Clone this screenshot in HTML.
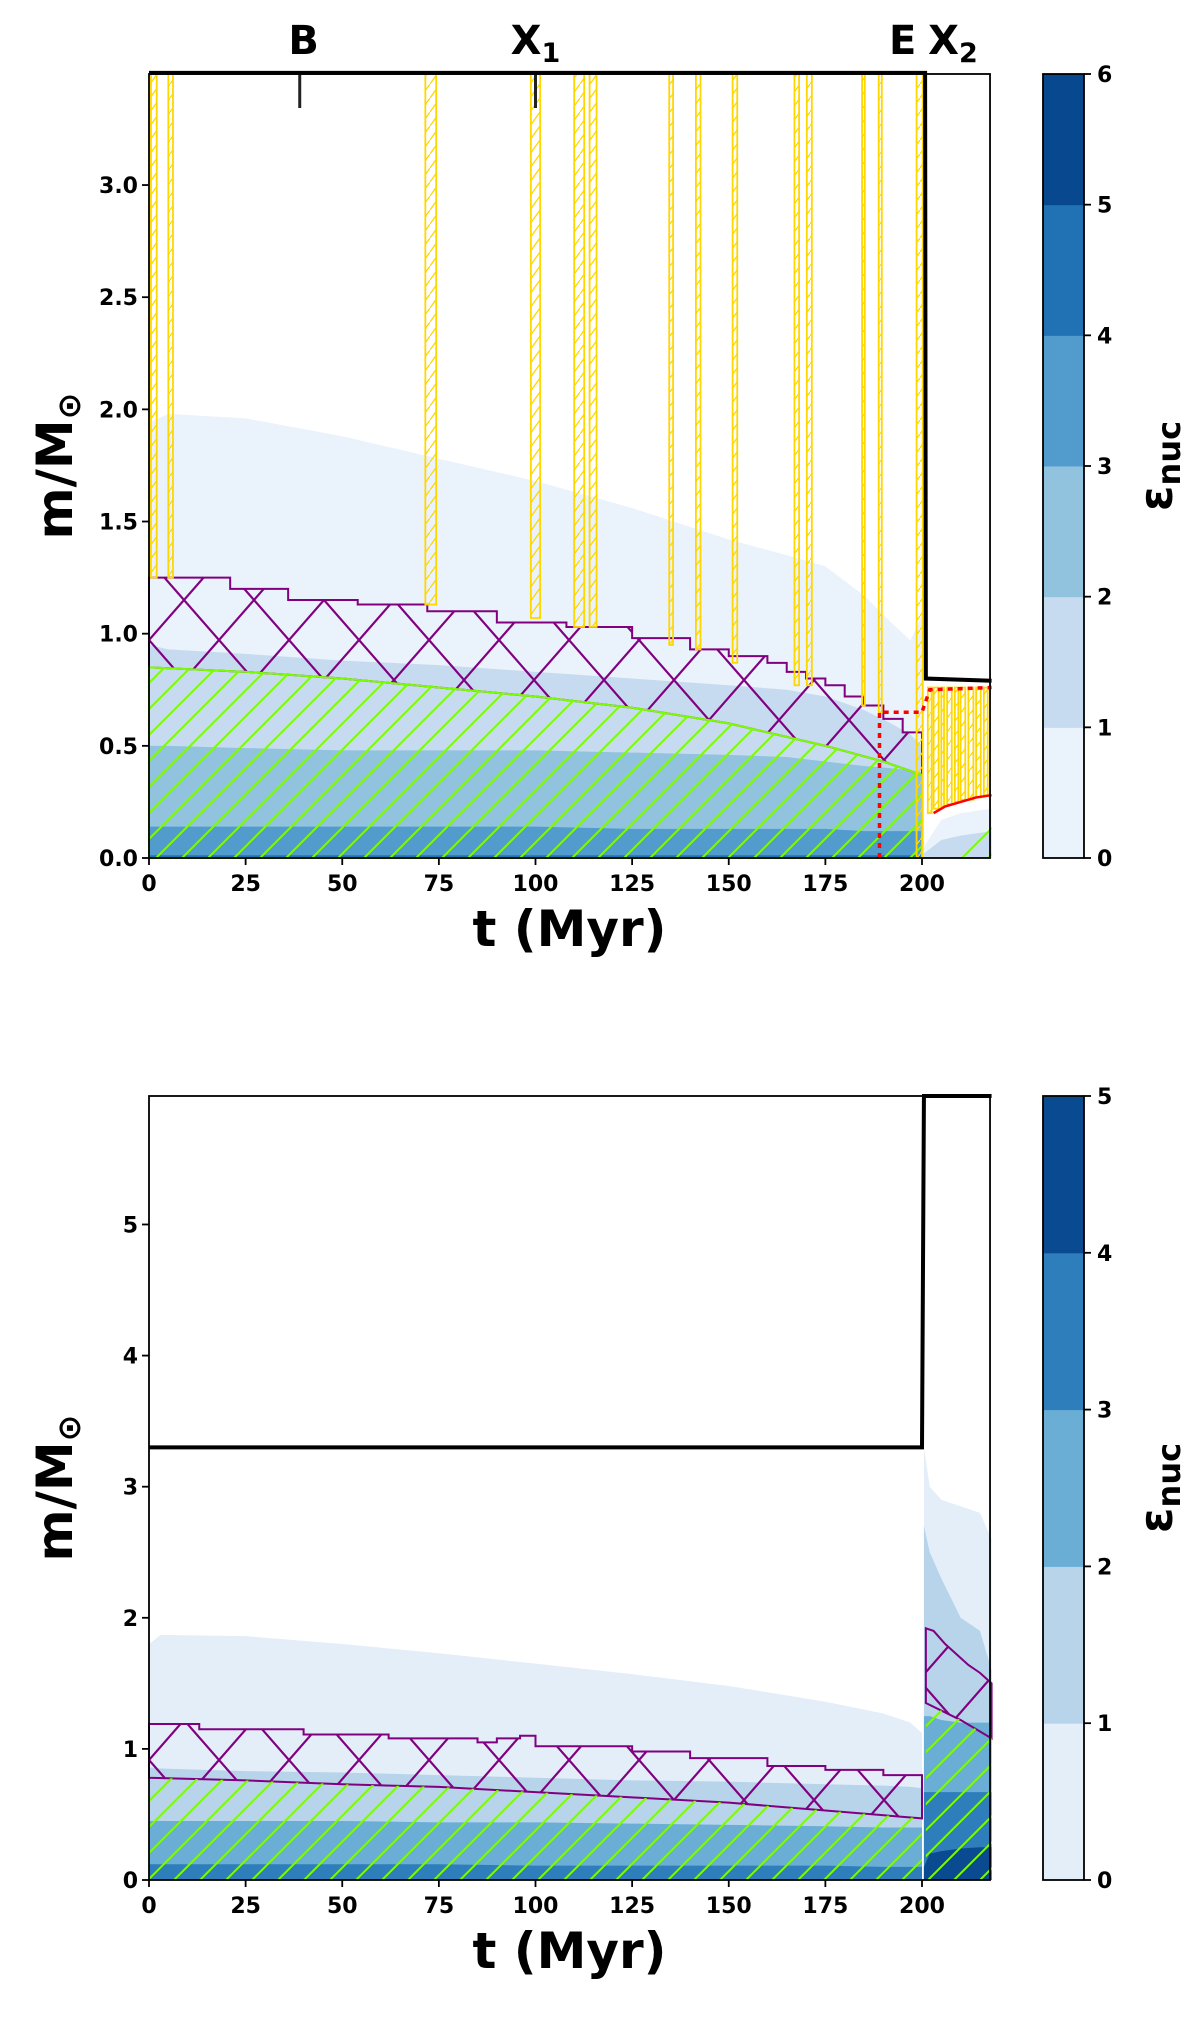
<!DOCTYPE html>
<html><head><meta charset="utf-8">
<style>
html,body{margin:0;padding:0;background:#fff;}
svg{display:block;font-family:"DejaVu Sans","Liberation Sans",sans-serif;}
</style></head>
<body>
<svg id="fig" width="1200" height="2022" viewBox="0 0 1200 2022" xmlns="http://www.w3.org/2000/svg">
<defs>
<pattern id="hatchGreen" patternUnits="userSpaceOnUse" width="26" height="26">
<path d="M-2,28 L28,-2 M-2,2 L2,-2 M24,28 L28,24" stroke="#7cfc00" stroke-width="2"/>
</pattern>
<pattern id="hatchPurple" patternUnits="userSpaceOnUse" width="70" height="80" x="149" y="0">
<path d="M0,0 L70,80 M70,0 L0,80" stroke="#800080" stroke-width="2.2"/>
</pattern>
<pattern id="hatchYellow" patternUnits="userSpaceOnUse" width="10" height="14">
<path d="M0,14 L10,0" stroke="#ffd700" stroke-width="1.3"/>
</pattern>
</defs>
<g id="top"></g>
<g id="bot"></g>
</svg>
<script>
// ---------- data: top panel ----------
const xTicks = [0,25,50,75,100,125,150,175,200];
const yTicksTop = [0.0,0.5,1.0,1.5,2.0,2.5,3.0];
const cbTicksTop = [0,1,2,3,4,5,6];
const cbColorsTop = ['#eaf2fb','#c6dbef','#92c3de','#519ccc','#2171b5','#08488e'];
const tMain = [0,5,25,50,75,100,125,150,165,175,185,192,197,200];
const lvl0Top = [1.94,1.98,1.96,1.88,1.78,1.68,1.56,1.42,1.35,1.30,1.17,1.05,0.97,1.08];
const lvl1Top = [0.95,0.93,0.91,0.88,0.86,0.83,0.80,0.77,0.75,0.72,0.66,0.60,0.55,0.50];
const lvl2Top = [0.50,0.50,0.49,0.48,0.48,0.48,0.47,0.46,0.45,0.43,0.41,0.40,0.39,0.38];
const lvl3Top = [0.14,0.14,0.14,0.14,0.14,0.14,0.13,0.13,0.13,0.13,0.12,0.12,0.12,0.12];
const tPost = [200.5,205,210,218];
const lvl0Post = [0.05,0.17,0.20,0.22];
const lvl1Post = [0.02,0.08,0.10,0.12];
const greenT = [0,25,50,75,100,125,150,175,190,200];
const greenTop = [0.85,0.83,0.80,0.76,0.72,0.67,0.60,0.50,0.43,0.37];
const greenPostT = [205,218];
const greenPostTop = [0.0,0.18];
const purpleStepT = [0,21,36,54,72,90,108,125,140,150,160,165,170,175,180,185,190,195,200];
const purpleStepY = [1.25,1.20,1.15,1.13,1.10,1.05,1.03,0.98,0.93,0.90,0.87,0.83,0.80,0.77,0.72,0.68,0.62,0.56,0.50];
const yStripT0 = [0.5,5,71.5,98.8,110,114,134.6,141.5,151,167,170.2,184.5,188.8,198.6,201.5,203,205,206.5,208.5,210,212,214,216];
const yStripT1 = [2,6.2,74.3,101.2,112.6,115.8,135.6,142.7,152.2,168.2,171.5,185.2,189.6,200.2,202.5,204.3,205.7,207.7,209.4,211.2,213.3,215.2,217];
const yStripBot = [1.25,1.25,1.13,1.07,1.03,1.03,0.95,0.93,0.87,0.77,0.77,0.68,0.65,0.0,0.20,0.22,0.23,0.24,0.25,0.26,0.26,0.27,0.28];
const yStripTopV = [3.5,3.5,3.5,3.5,3.5,3.5,3.5,3.5,3.5,3.5,3.5,3.5,3.5,3.5,0.76,0.76,0.76,0.76,0.76,0.76,0.76,0.76,0.76];
const blackT = [0,200,200.8,201,218];
const blackY = [3.5,3.5,3.5,0.8,0.79];
const redDotT = [189,189,200,202,218];
const redDotY = [0.0,0.65,0.65,0.75,0.76];
const redSolidT = [203,206,210,214,218];
const redSolidY = [0.2,0.23,0.25,0.27,0.28];
const markT = [39,100];
const markLabels = [['B',40],['X','1',100],['E',195],['X','2',208]];

// ---------- data: bottom panel ----------
const yTicksBot = [0,1,2,3,4,5];
const cbTicksBot = [0,1,2,3,4,5];
const cbColorsBot = ['#e3eef9','#b7d4ea','#6aaed6','#2e7ebc','#0a4a90'];
const tMainB = [0,3,25,50,75,100,125,150,175,190,197,200];
const lvl0B = [1.80,1.87,1.86,1.80,1.73,1.65,1.57,1.48,1.36,1.27,1.20,1.12];
const lvl1B = [0.86,0.85,0.83,0.82,0.80,0.78,0.76,0.75,0.73,0.72,0.71,0.70];
const lvl2B = [0.45,0.45,0.45,0.45,0.44,0.44,0.43,0.42,0.41,0.40,0.40,0.40];
const lvl3B = [0.12,0.12,0.12,0.12,0.12,0.11,0.11,0.11,0.11,0.10,0.10,0.10];
const tPostB = [200.5,202,205,210,215,218];
const lvl0PostB = [3.3,3.0,2.9,2.85,2.8,2.6];
const lvl1PostB = [2.7,2.5,2.3,2.0,1.9,1.6];
const lvl2PostB = [1.25,1.25,1.22,1.2,1.2,1.2];
const lvl3PostB = [0.67,0.67,0.67,0.67,0.67,0.67];
const lvl4PostB = [0.1,0.2,0.22,0.24,0.25,0.25];
const greenTB = [0,25,50,75,100,125,150,175,200];
const greenTopB = [0.78,0.76,0.73,0.71,0.67,0.63,0.59,0.53,0.47];
const greenPostTB = [201,210,218];
const greenPostTopB = [1.35,1.22,1.08];
const purpleStepTB = [0,13,40,62,85,90,96,100,125,140,160,175,190,200];
const purpleStepYB = [1.19,1.15,1.11,1.08,1.05,1.08,1.10,1.02,0.98,0.93,0.87,0.84,0.80,0.75];
const purplePostTB = [201,203,206,209,212,215,218];
const purplePostTopB = [1.92,1.9,1.8,1.72,1.64,1.58,1.50];
const blackTB = [0,200,200.5,218];
const blackYB = [3.3,3.3,5.98,5.98];

// ---------- geometry ----------
const X0=149, PXT=3.865, XMAX=217.6;
const sx = t => X0 + t*PXT;
const P1 = {top:74,bot:858,ymax:3.495};
const P2 = {top:1096,bot:1880,ymax:5.98};
const syF = P => y => P.bot - y*(P.bot-P.top)/P.ymax;
const NS='http://www.w3.org/2000/svg';
function mk(parent,tag,attrs){const e=document.createElementNS(NS,tag);for(const k in attrs)e.setAttribute(k,attrs[k]);parent.appendChild(e);return e;}
function areaPath(ts,ys,sy){let d='M'+sx(ts[0])+','+sy(0);ts.forEach((t,i)=>d+=' L'+sx(t)+','+sy(ys[i]));d+=' L'+sx(ts[ts.length-1])+','+sy(0)+'Z';return d;}
function linePath(ts,ys,sy){return ts.map((t,i)=>(i?'L':'M')+sx(t)+','+sy(ys[i])).join(' ');}
function stepPath(ts,ys,sy,endT){let d='';ts.forEach((t,i)=>{const tn=i<ts.length-1?ts[i+1]:endT;d+=(i?' L':'M')+sx(t)+','+sy(ys[i])+' L'+sx(tn)+','+sy(ys[i]);});return d;}

function axes(g,P,yTicks,fmt,cbTicks,cbColors){
  const sy=syF(P);
  const cb=mk(g,'g',{});
  
  
  const n=cbColors.length,h=(P.bot-P.top)/n;
  cbColors.forEach((c,i)=>{const r=mk(cb,'rect',{x:1043,y:P.bot-(i+1)*h,width:41,height:h+0.5,fill:c});
    });
  mk(cb,'rect',{x:1043,y:P.top,width:41,height:P.bot-P.top,fill:'none',stroke:'#000','stroke-width':1.8});
  cbTicks.forEach((v,i)=>{const y=P.bot-i*h;mk(cb,'line',{x1:1084,x2:1091,y1:y,y2:y,stroke:'#000','stroke-width':1.8});
    const t=mk(cb,'text',{x:1097,y:y+8,'font-size':22,'font-weight':'bold'});t.textContent=v;
    });
  const el=mk(g,'text',{transform:`translate(1172,${(P.top+P.bot)/2}) rotate(-90)`,'text-anchor':'middle','font-size':46,'font-weight':'bold'});
  
  el.innerHTML='ε<tspan font-size="32" dy="8">nuc</tspan>';
  mk(g,'rect',{x:X0,y:P.top,width:sx(XMAX)-X0,height:P.bot-P.top,fill:'none',stroke:'#000','stroke-width':1.8});
  xTicks.forEach(v=>{const x=sx(v);mk(g,'line',{x1:x,x2:x,y1:P.bot,y2:P.bot+7,stroke:'#000','stroke-width':1.8});
    const t=mk(g,'text',{x:x,y:P.bot+33,'text-anchor':'middle','font-size':22,'font-weight':'bold'});t.textContent=v;
    });
  yTicks.forEach(v=>{const y=sy(v);mk(g,'line',{x1:X0-7,x2:X0,y1:y,y2:y,stroke:'#000','stroke-width':1.8});
    const t=mk(g,'text',{x:X0-11,y:y+8,'text-anchor':'end','font-size':22,'font-weight':'bold'});t.textContent=fmt(v);
    });
  const xl=mk(g,'text',{x:(X0+sx(XMAX))/2,y:P.bot+88,'text-anchor':'middle','font-size':50,'font-weight':'bold'});
  xl.textContent='t (Myr)';
  
  const yl=mk(g,'text',{transform:`translate(72,${(P.top+P.bot)/2}) rotate(-90)`,'text-anchor':'middle','font-size':50,'font-weight':'bold'});
  yl.innerHTML='m/M<tspan font-size="32" dy="8">⊙</tspan>';
  
}
function fillArea(g,ts,ys,sy,fill,name){const p=mk(g,'path',{d:areaPath(ts,ys,sy),fill:fill});
  return p;}

// ---------- TOP ----------
(function(){
  const g=document.getElementById('top'), sy=syF(P1), C=cbColorsTop;
  fillArea(g,tMain,lvl0Top,sy,C[0],'eps-level-0');
  fillArea(g,tMain,lvl1Top,sy,C[1],'eps-level-1');
  fillArea(g,tMain,lvl2Top,sy,C[2],'eps-level-2');
  fillArea(g,tMain,lvl3Top,sy,C[3],'eps-level-3');
  mk(g,'rect',{x:X0,y:sy(0.012),width:sx(200)-X0,height:sy(0)-sy(0.012),fill:C[4]});
  fillArea(g,tPost,lvl0Post,sy,C[0],'eps-post-level-0');
  fillArea(g,tPost,lvl1Post,sy,C[1],'eps-post-level-1');
  const pd=stepPath(purpleStepT,purpleStepY,sy,200)+' '+greenT.slice().reverse().map((t,i,a)=>'L'+sx(t)+','+sy(greenTop[greenT.length-1-i])).join(' ')+'Z';
  const pp=mk(g,'path',{d:pd,fill:'url(#hatchPurple)',stroke:'#800080','stroke-width':2});
  
  const gp=fillArea(g,greenT,greenTop,sy,'url(#hatchGreen)','convective-core');
  gp.setAttribute('stroke','#7cfc00');gp.setAttribute('stroke-width','2');
  fillArea(g,greenPostT,greenPostTop,sy,'url(#hatchGreen)','convective-core-post');
  yStripT0.forEach((t0,i)=>{const x0=sx(t0),x1=sx(yStripT1[i]);const y0=sy(yStripTopV[i]),y1=sy(yStripBot[i]);
    const r=mk(g,'rect',{x:x0,y:y0,width:Math.max(x1-x0,1.5),height:y1-y0,fill:'url(#hatchYellow)',stroke:'#ffd700','stroke-width':1.8});
    });
  const rd=mk(g,'path',{d:linePath(redDotT,redDotY,sy),fill:'none',stroke:'#ff0000','stroke-width':3.5,'stroke-dasharray':'5,5'});
  
  const rs=mk(g,'path',{d:linePath(redSolidT,redSolidY,sy),fill:'none',stroke:'#ff0000','stroke-width':2.5});
  
  const bl=mk(g,'path',{d:linePath(blackT,blackY,sy),fill:'none',stroke:'#000','stroke-width':4});
  
  markT.forEach(t=>{const m=mk(g,'line',{x1:sx(t),x2:sx(t),y1:P1.top,y2:P1.top+34,stroke:'#222','stroke-width':3});
    });
  markLabels.forEach(l=>{const t=mk(g,'text',{x:sx(l[l.length-1]),y:54,'text-anchor':'middle','font-size':40,'font-weight':'bold'});
    t.innerHTML=l.length===3?l[0]+'<tspan font-size="27" dy="8">'+l[1]+'</tspan>':l[0];
    });
  axes(g,P1,yTicksTop,v=>v.toFixed(1),cbTicksTop,cbColorsTop);
})();

// ---------- BOTTOM ----------
(function(){
  const g=document.getElementById('bot'), sy=syF(P2), C=cbColorsBot;
  fillArea(g,tMainB,lvl0B,sy,C[0],'eps-level-0');
  fillArea(g,tMainB,lvl1B,sy,C[1],'eps-level-1');
  fillArea(g,tMainB,lvl2B,sy,C[2],'eps-level-2');
  fillArea(g,tMainB,lvl3B,sy,C[3],'eps-level-3');
  fillArea(g,tPostB,lvl0PostB,sy,C[0],'eps-post-level-0');
  fillArea(g,tPostB,lvl1PostB,sy,C[1],'eps-post-level-1');
  fillArea(g,tPostB,lvl2PostB,sy,C[2],'eps-post-level-2');
  fillArea(g,tPostB,lvl3PostB,sy,C[3],'eps-post-level-3');
  fillArea(g,tPostB,lvl4PostB,sy,C[4],'eps-post-level-4');
  const pd=stepPath(purpleStepTB,purpleStepYB,sy,200)+' '+greenTB.slice().reverse().map((t,i)=>'L'+sx(t)+','+sy(greenTopB[greenTB.length-1-i])).join(' ')+'Z';
  const pp=mk(g,'path',{d:pd,fill:'url(#hatchPurple)',stroke:'#800080','stroke-width':2});
  
  let pd2='M'+sx(purplePostTB[0])+','+sy(purplePostTopB[0]);
  purplePostTB.forEach((t,i)=>pd2+=' L'+sx(t)+','+sy(purplePostTopB[i]));
  greenPostTB.slice().reverse().forEach((t,i)=>pd2+=' L'+sx(t)+','+sy(greenPostTopB[greenPostTB.length-1-i]));
  pd2+='Z';
  const pp2=mk(g,'path',{d:pd2,fill:'url(#hatchPurple)',stroke:'#800080','stroke-width':2});
  
  fillArea(g,greenTB,greenTopB,sy,'url(#hatchGreen)','convective-core');
  fillArea(g,greenPostTB,greenPostTopB,sy,'url(#hatchGreen)','convective-core-post');
  const bl=mk(g,'path',{d:linePath(blackTB,blackYB,sy),fill:'none',stroke:'#000','stroke-width':4});
  
  axes(g,P2,yTicksBot,v=>String(v),cbTicksBot,cbColorsBot);
})();
</script>
</body></html>
